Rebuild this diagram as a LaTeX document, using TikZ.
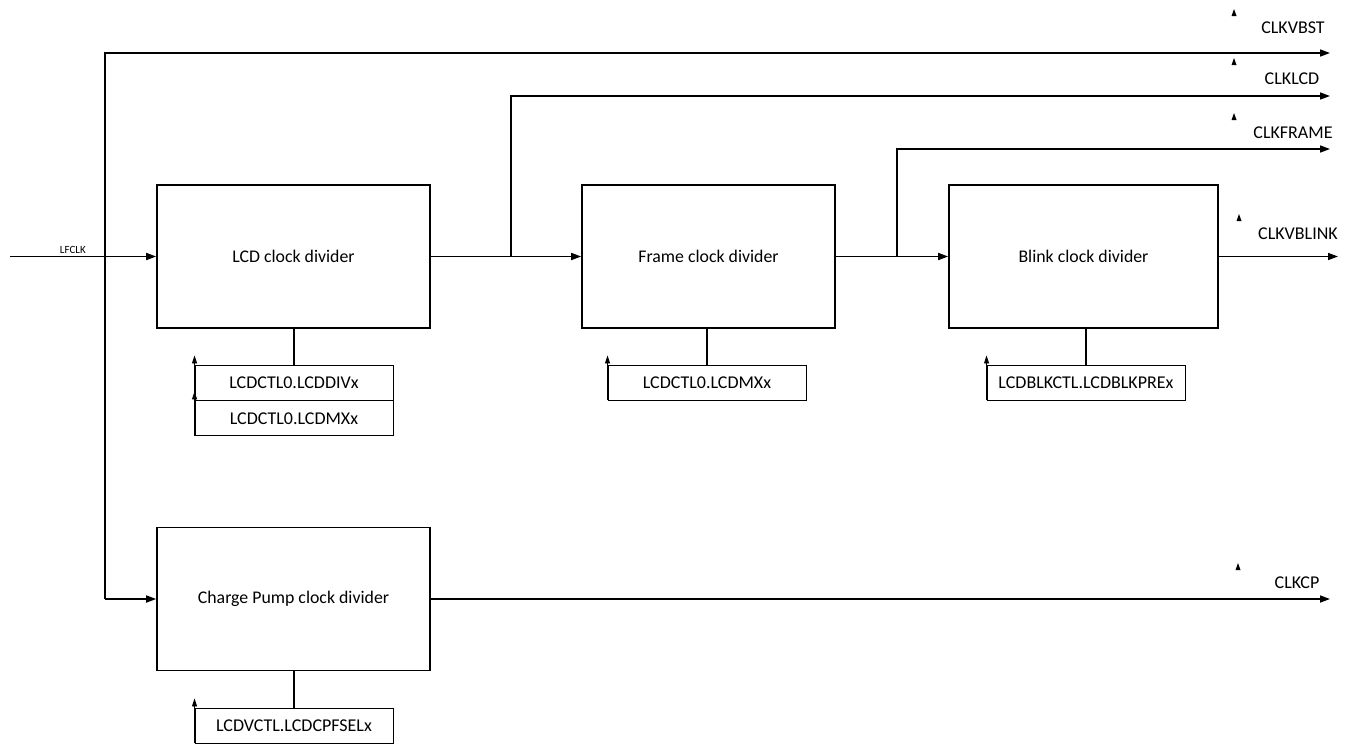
\documentclass[tikz,border=0pt]{standalone}
\usepackage{fontspec}
\setmainfont{Carlito}
\usetikzlibrary{positioning,arrows.meta}

\begin{document}
\begin{tikzpicture}[x=1pt,y=-1pt,
  divbox/.style={draw,line width=1.6pt,minimum width=273pt,minimum height=143pt,inner sep=0pt,font=\fontsize{17.8}{20}\selectfont},
  regbox/.style={draw,line width=0.9pt,minimum width=198pt,minimum height=35pt,inner sep=0pt,font=\fontsize{18}{20}\selectfont},
  sig/.style={line width=1.6pt,-{Triangle[length=10pt,width=7pt]}},
  sel/.style={line width=0.9pt,-{Triangle[length=8pt,width=5pt]}},
  tag/.style={font=\fontsize{18}{20}\selectfont},
  stub/.style={fill=black}]
\useasboundingbox (0,0) rectangle (1348,744);
% divider blocks
\node[divbox] (lcd) at (293.5,256.5) {LCD clock divider};
\node[divbox,minimum width=253pt] (frame) at (708.5,256.5) {Frame clock divider};
\node[divbox,minimum width=269pt] (blink) at (1083.5,256.5) {Blink clock divider};
\node[divbox] (cp) at (293.5,599) {Charge Pump clock divider};
% register fields
\node[regbox] (lcddiv) at (294,382.5) {LCDCTL0.LCDDIVx};
\node[regbox,below=0pt of lcddiv] (lcdmx) {LCDCTL0.LCDMXx};
\node[regbox] (framemx) at (707,382.5) {LCDCTL0.LCDMXx};
\node[regbox] (blkpre) at (1086,382.5) {LCDBLKCTL.LCDBLKPREx};
\node[regbox] (cpfsel) at (294,725.5) {LCDVCTL.LCDCPFSELx};
\draw[line width=1.6pt] (lcddiv.north) -- (lcddiv.north |- lcd.south);
\draw[line width=1.6pt] (framemx.north) -- (framemx.north |- frame.south);
\draw[line width=1.6pt] (blkpre.north) -- (blkpre.north |- blink.south);
\draw[line width=1.6pt] (cpfsel.north) -- (cpfsel.north |- cp.south);
\draw[sel] (lcddiv.south west) -- ++(0,-45);
\draw[sel] (lcdmx.south west) -- ++(0,-45);
\draw[sel] (framemx.south west) -- ++(0,-45);
\draw[sel] (blkpre.south west) -- ++(0,-45);
\draw[sel] (cpfsel.south west) -- ++(0,-45);
% clock paths
\coordinate (in) at (10,256.5);
\coordinate (top) at (105,53);
\coordinate (vbst) at (1330,53);
\coordinate (lcdtap) at (511,256.5);
\coordinate (lcdout) at (1330,96);
\coordinate (frametap) at (897,256.5);
\coordinate (frameout) at (1330,149);
\coordinate (vblink) at (1338,256.5);
\coordinate (cpout) at (1330,599);
\draw[sig] (in) -- node[above,pos=0.43,font=\fontsize{11}{12}\selectfont,inner sep=2pt] {LFCLK} (lcd.west);
\draw[sig] (top |- cp.west) -- (top) -- (vbst);
\draw[sig] (top |- cp.west) -- (cp.west);
\draw[sig] (lcd.east) -- (frame.west);
\draw[sig] (lcdtap) |- (lcdout);
\draw[sig] (frame.east) -- (blink.west);
\draw[sig] (frametap) |- (frameout);
\draw[sig] (blink.east) -- (vblink);
\draw[sig] (cp.east) -- (cpout);
% output names
\node[tag] (nvbst) at (1293,28) {CLKVBST};
\node[tag] (nlcd) at (1292,79) {CLKLCD};
\node[tag] (nframe) at (1293,133) {CLKFRAME};
\node[tag] (nvblink) at (1298,234) {CLKVBLINK};
\node[tag] (ncp) at (1297,583) {CLKCP};
\foreach \px/\py in {1234/9,1234/58,1234/113,1239/214,1238/563}
  \fill[stub] (\px,\py) -- ++(2.5,7) -- ++(-5,0) -- cycle;
\end{tikzpicture}
\end{document}
